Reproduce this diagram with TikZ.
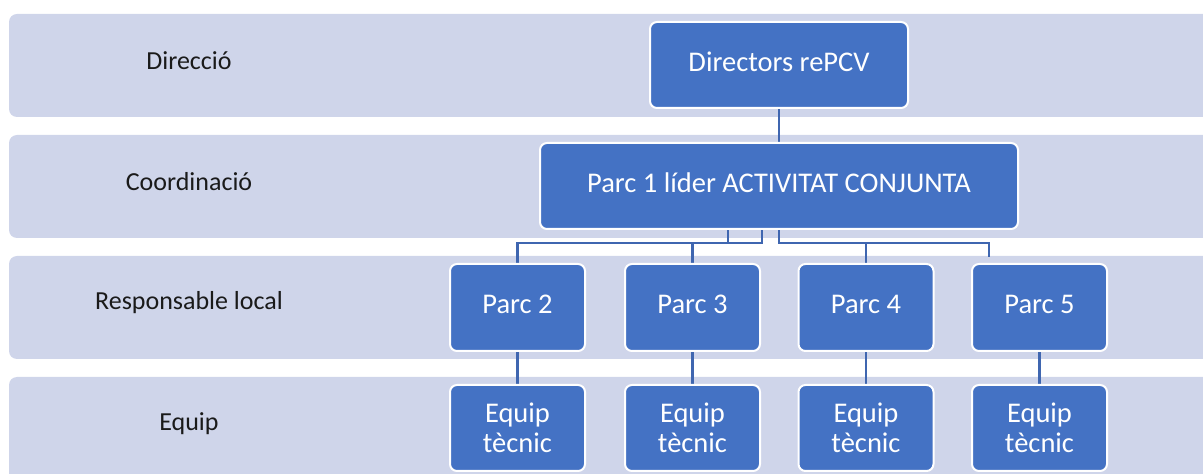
\documentclass[tikz,border=0pt]{standalone}
\usepackage{fontspec}
\setmainfont{Carlito}
\definecolor{band}{HTML}{CFD5EA}
\definecolor{boxblue}{HTML}{4472C4}
\definecolor{linec}{HTML}{3F66B0}
\definecolor{labtext}{HTML}{1A1A1A}
\pgfdeclarelayer{bands}
\pgfdeclarelayer{links}
\pgfsetlayers{bands,links,main}
\begin{document}
\begin{tikzpicture}[x=1pt,y=1pt,
  bandbox/.style={fill=band, rounded corners=8pt},
  box/.style={fill=boxblue, draw=white, line width=2pt, rounded corners=7pt, text=white,
    font=\fontsize{28.5}{30}\selectfont, align=center, inner sep=0pt},
  rowlabel/.style={text=labtext, font=\fontsize{26}{30}\selectfont},
  conn/.style={draw=linec, line width=2.5pt}]
\useasboundingbox (0,0) rectangle (1203,474);
\clip (0,0) rectangle (1203,474);
% row labels
\node[rowlabel] (l1) at (189,413) {Direcció};
\node[rowlabel] (l2) at (189,292) {Coordinació};
\node[rowlabel] (l3) at (189,171) {Responsable local};
\node[rowlabel] (l4) at (189,50) {Equip};
% boxes
\node[box, minimum width=258, minimum height=86] (dir) at (779,409) {\raisebox{7pt}{Directors rePCV}};
\node[box, minimum width=478, minimum height=86] (p1) at (779,288) {\raisebox{6pt}{Parc 1 líder ACTIVITAT CONJUNTA}};
\node[box, minimum width=135, minimum height=87] (p2) at (517.5,166.5) {\raisebox{7pt}{Parc 2}};
\node[box, minimum width=135, minimum height=87] (p3) at (692.5,166.5) {\raisebox{7pt}{Parc 3}};
\node[box, minimum width=135, minimum height=87] (p4) at (866,166.5) {\raisebox{7pt}{Parc 4}};
\node[box, minimum width=135, minimum height=87] (p5) at (1039.5,166.5) {\raisebox{7pt}{Parc 5}};
\node[box, minimum width=135, minimum height=86] (e2) at (517.5,46) {Equip\\tècnic};
\node[box, minimum width=135, minimum height=86] (e3) at (692.5,46) {Equip\\tècnic};
\node[box, minimum width=135, minimum height=86] (e4) at (866,46) {Equip\\tècnic};
\node[box, minimum width=135, minimum height=86] (e5) at (1039.5,46) {Equip\\tècnic};
% bus coordinates
\coordinate (hbar) at (0,231);
\coordinate (q5) at (989,217);
% connectors
\begin{pgfonlayer}{links}
\draw[conn] (dir) -- (p1);
\draw[conn] ([xshift=-51pt]p1.center) -- ([xshift=-51pt]p1.center |- hbar);
\draw[conn] ([xshift=-17pt]p1.center) |- (p2 |- hbar) -- (p2);
\draw[conn] (p3 |- hbar) -- (p3);
\draw[conn] (p1) |- (q5 |- hbar) -- (q5);
\draw[conn] (p4 |- hbar) -- (p4);
\draw[conn] (p2) -- (e2);
\draw[conn] (p3) -- (e3);
\draw[conn] (p4) -- (e4);
\draw[conn] (p5) -- (e5);
\end{pgfonlayer}
% bands
\begin{pgfonlayer}{bands}
\fill[bandbox] (9,357) rectangle (1220,460);
\fill[bandbox] (9,236) rectangle (1220,339);
\fill[bandbox] (9,115) rectangle (1220,218);
\fill[bandbox] (9,-20) rectangle (1220,97);
\end{pgfonlayer}
\end{tikzpicture}
\end{document}
